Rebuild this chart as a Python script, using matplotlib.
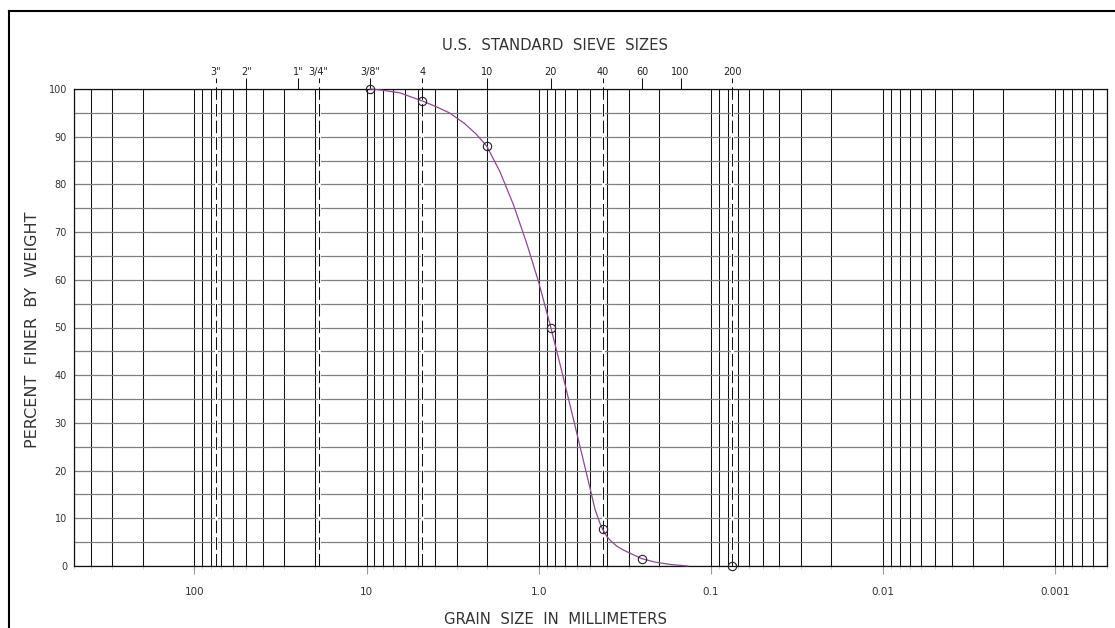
import numpy as np
import matplotlib.pyplot as plt
from matplotlib.ticker import LogLocator, NullFormatter
from matplotlib.lines import Line2D

# sieve sizes along the top (mm)
sieve_labels = ['3"', '2"', '1"', '3/4"', '3/8"', '4', '10', '20', '40', '60', '100', '200']
sieve_mm = [75, 50, 25, 19, 9.5, 4.75, 2.0, 0.85, 0.425, 0.25, 0.15, 0.075]
# sieves drawn as dashed lines (soil class boundaries)
boundary_mm = [75, 19, 4.75, 0.425, 0.075]

# measured points
test_mm = [9.5, 4.75, 2.0, 0.85, 0.425, 0.25, 0.075]
test_pct = [100, 97.5, 88, 50, 7.7, 1.5, 0]

# gradation curve
curve_mm = [9.5, 8.3, 6.4, 4.75, 4.0, 3.3, 2.7, 2.3, 2.0, 1.68, 1.4, 1.17, 1.0,
            0.85, 0.72, 0.615, 0.51, 0.47, 0.44, 0.425, 0.40, 0.38, 0.35, 0.32,
            0.28, 0.25, 0.21, 0.17, 0.136]
curve_pct = [100, 99.8, 99.2, 97.5, 96.4, 95.0, 92.8, 90.5, 88, 82.7, 75.7, 67.5, 59.5,
             50, 39.6, 29.4, 17.2, 11.8, 8.9, 7.7, 6.1, 5.2, 4.1, 3.3,
             2.3, 1.5, 0.8, 0.3, 0]

decade_ticks = [100, 10, 1.0, 0.1, 0.01, 0.001]
decade_labels = ['100', '10', '1.0', '0.1', '0.01', '0.001']
pct_ticks = list(range(0, 101, 10))
pct_minor = list(range(5, 100, 10))

W, H = 1115, 628
fig = plt.figure(figsize=(W / 100, H / 100), dpi=100)
ax = fig.add_axes([74 / W, 62 / H, 1033 / W, 477 / H])
ax.set_xscale('log')
ax.set_xlim(500, 0.0005)
ax.set_ylim(0, 100)

ax.set_xticks(decade_ticks, decade_labels)
ax.xaxis.set_minor_locator(LogLocator(base=10, subs=np.arange(2, 10), numticks=100))
ax.xaxis.set_minor_formatter(NullFormatter())
ax.set_yticks(pct_ticks)
ax.set_yticks(pct_minor, minor=True)

ax.grid(which='both', axis='x', color='#111111', lw=0.75)
ax.grid(which='both', axis='y', color='#808080', lw=0.9)

ax.tick_params(axis='x', which='major', length=6, color='#999999', pad=9,
               labelsize=7.5, labelcolor='#333333')
ax.tick_params(axis='x', which='minor', length=2, color='#cccccc')
ax.tick_params(axis='y', which='both', length=0, pad=5, labelsize=7,
               labelcolor='#333333')
for sp in ax.spines.values():
    sp.set_linewidth(0.9)
    sp.set_color('#111111')

# dashed boundary sieves, extended above the chart as ticks
ax.vlines(boundary_mm, 0, 102.3, colors='white', lw=2.0, clip_on=False, zorder=2)
ax.vlines(boundary_mm, 0, 102.3, colors='#111111', lw=0.75,
          linestyles=[(0, (12, 4))], clip_on=False, zorder=2.1)
other = [s for s in sieve_mm if s not in boundary_mm]
ax.vlines(other, 100, 102.3, colors='#111111', lw=0.75, clip_on=False, zorder=2.1)
for s, lab in zip(sieve_mm, sieve_labels):
    ax.text(s, 102.9, lab, ha='center', va='baseline', fontsize=7, color='#222222')

ax.plot(curve_mm, curve_pct, color='#8e4a8e', lw=0.9, zorder=3, clip_on=False)
ax.plot(test_mm, test_pct, 'o', mfc='none', mec='#222222', ms=6, mew=0.8,
        zorder=4, clip_on=False)

fig.text(555 / W, 1 - 45 / H, 'U.S.  STANDARD  SIEVE  SIZES', ha='center',
         va='center', fontsize=10.7, color='#333333')
fig.text(555 / W, 1 - 620 / H, 'GRAIN  SIZE  IN  MILLIMETERS', ha='center',
         va='center', fontsize=10.7, color='#333333')
fig.text(33 / W, 1 - 330 / H, 'PERCENT  FINER  BY  WEIGHT', rotation=90,
         ha='center', va='center', fontsize=11.5, color='#333333')

# outer drawing frame
fig.add_artist(Line2D([9 / W, 1.0], [1 - 11 / H] * 2, color='black', lw=1.5,
                      transform=fig.transFigure))
fig.add_artist(Line2D([9 / W] * 2, [0, 1 - 11 / H], color='black', lw=1.5,
                      transform=fig.transFigure))

fig.savefig('out.png', dpi=100)
